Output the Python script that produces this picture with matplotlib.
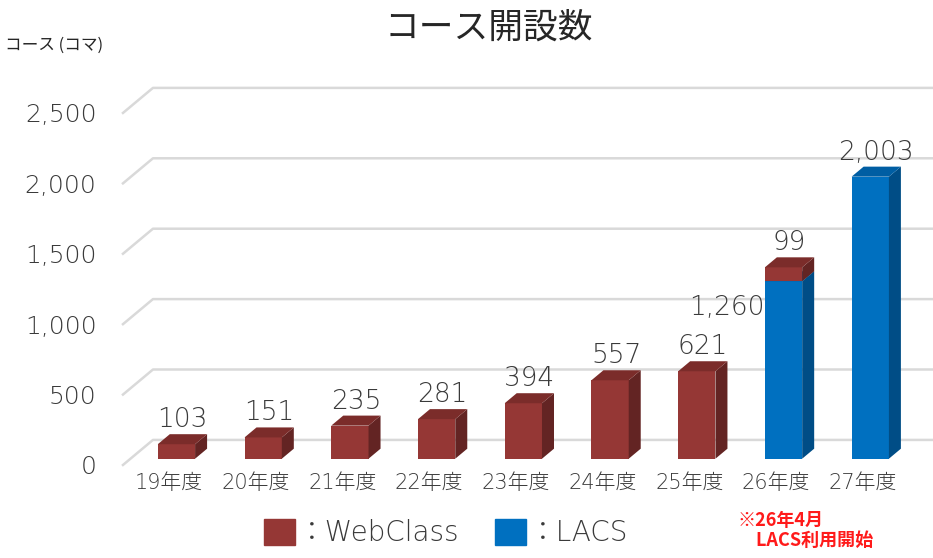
import matplotlib
matplotlib.use('Agg')
import matplotlib.pyplot as plt
from matplotlib.patches import Polygon, Patch

plt.rcParams['font.family'] = ['DejaVu Sans', 'Noto Sans CJK JP']

# datos del grafico
years = ['19年度', '20年度', '21年度', '22年度', '23年度', '24年度', '25年度', '26年度', '27年度']
lacs = [0, 0, 0, 0, 0, 0, 0, 1260, 2003]
webclass = [103, 151, 235, 281, 394, 557, 621, 99, 0]
y_ticks = [0, 500, 1000, 1500, 2000, 2500]

# colores (frente, lado, tapa)
red = ('#953735', '#632423', '#7b2c2a')
blue = ('#0070c0', '#004d86', '#005ea3')
text_color = '#3a3a3a'
num_font = dict(family=['DejaVu Sans', 'Noto Sans CJK JP'], weight='light')

# profundidad 3D en unidades de datos
DX, DY = 0.346, 178
D0, D1 = 0.25, 0.65
W = 0.43

fig = plt.figure(figsize=(9.33, 5.58), dpi=100)
ax = fig.add_axes([0.1318, 0.1667, 0.8682, 0.6864])
ax.set_xlim(-0.53, 8.81)
ax.set_ylim(0, 2720)

# lineas de la cuadricula (pared del fondo)
x_left, x_right = ax.get_xlim()
for t in y_ticks:
    ax.plot([x_left, x_left + DX, x_right], [t, t + DY, t + DY],
            color='#d9d9d9', lw=1.8, zorder=1, clip_on=False)


def box(x, bottom, height, colors):
    # cara frontal con bar, lado y tapa con poligonos
    x0 = x + DX * D0 - W / 2
    y0 = bottom + DY * D0
    ax.bar(x0, height, width=W, bottom=y0, align='edge', color=colors[0],
           lw=0, zorder=3)
    dx = DX * (D1 - D0)
    dy = DY * (D1 - D0)
    y1 = y0 + height
    side = [(x0 + W, y0), (x0 + W + dx, y0 + dy), (x0 + W + dx, y1 + dy), (x0 + W, y1)]
    top = [(x0, y1), (x0 + W, y1), (x0 + W + dx, y1 + dy), (x0 + dx, y1 + dy)]
    ax.add_patch(Polygon(side, closed=True, color=colors[1], lw=0, zorder=3))
    ax.add_patch(Polygon(top, closed=True, color=colors[2], lw=0, zorder=3))
    return x0, y1


for i in range(len(years)):
    bottom = 0
    if lacs[i] > 0:
        x0, y1 = box(i, 0, lacs[i], blue)
        bottom = lacs[i]
        if webclass[i] > 0:
            # etiqueta a la izquierda de la barra
            ax.annotate(f'{lacs[i]:,}', (x0, y1), xytext=(0, -19),
                        textcoords='offset points', ha='right', va='center',
                        fontsize=19, color=text_color, zorder=5, **num_font)
        else:
            ax.annotate(f'{lacs[i]:,}', (i + DX * (D0 + D1) / 2, y1 + DY * (D1 - D0)),
                        xytext=(0, 5), textcoords='offset points', ha='center',
                        va='baseline', fontsize=19, color=text_color, zorder=5,
                        **num_font)
    if webclass[i] > 0:
        x0, y1 = box(i, bottom, webclass[i], red)
        ax.annotate(f'{webclass[i]:,}', (i + DX * (D0 + D1) / 2, y1 + DY * (D1 - D0)),
                    xytext=(0, 5), textcoords='offset points', ha='center',
                    va='baseline', fontsize=19, color=text_color, zorder=5,
                    **num_font)

ax.set_yticks(y_ticks)
ax.set_yticklabels([f'{t:,}' for t in y_ticks], fontsize=18, color=text_color,
                   **num_font)
ax.set_xticks(range(len(years)))
ax.set_xticklabels(years, fontsize=15, color=text_color, **num_font)
ax.tick_params(axis='y', length=0, pad=19)
ax.tick_params(axis='x', length=0, pad=6)
for s in ax.spines.values():
    s.set_visible(False)

fig.text(489 / 933, 1 - 28 / 558, 'コース開設数', fontsize=25, color='#262626',
         family='Noto Sans CJK JP', ha='center', va='center')
fig.text(5 / 933, 1 - 45 / 558, 'コース (コマ)', fontsize=12, color='#262626',
         family='Noto Sans CJK JP', ha='left', va='center')

handles = [Patch(color=red[0]), Patch(color=blue[0])]
fig.legend(handles, ['：WebClass', '：LACS'], ncol=2, loc='center',
           bbox_to_anchor=(446 / 933, 25 / 558), frameon=False,
           prop=dict(size=20, **num_font),
           handlelength=1.1, handleheight=1.1, handletextpad=0.1,
           columnspacing=1.3, labelcolor=text_color)

fig.text(738 / 933, 1 - 511 / 558, '※26年4月\n\u3000LACS利用開始', color='#ff1a1a',
         fontsize=13, fontweight='bold', family='Noto Sans CJK JP',
         ha='left', va='top', linespacing=1.05)

fig.savefig('out.png', dpi=100)
